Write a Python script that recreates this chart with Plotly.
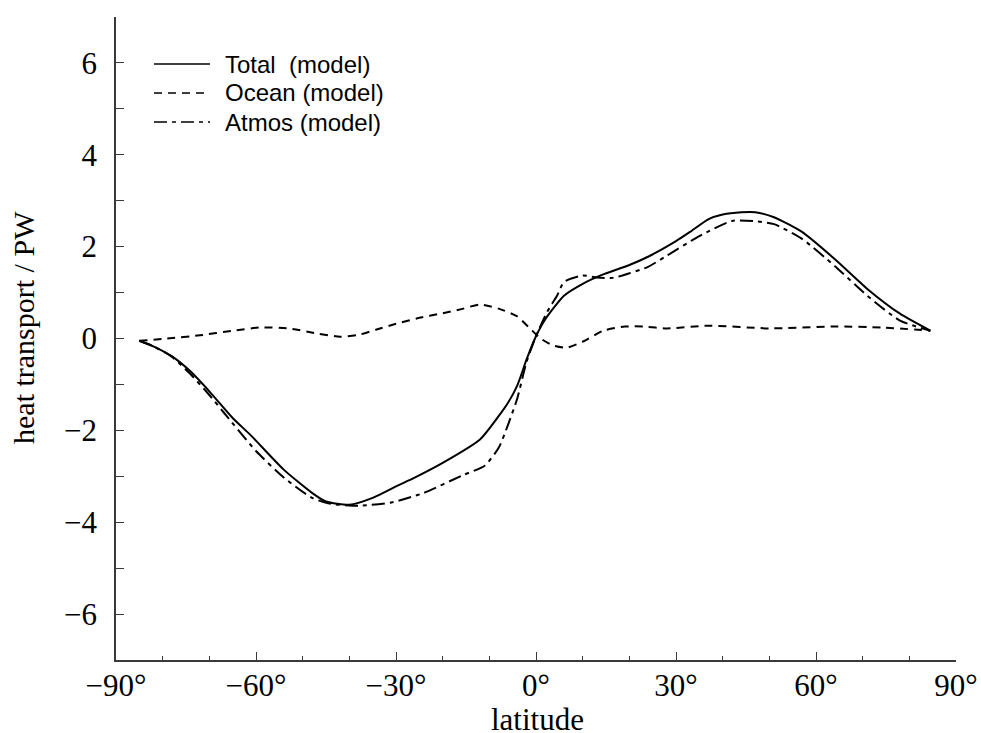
import plotly.graph_objects as go

# ---- data ----
total_lat = [-85, -82, -78, -74, -70, -65, -61, -54, -48, -45, -40, -35, -30, -26, -20, -12, -8, -6, -4, -2, 0,
             2, 6, 10, 14, 20, 24, 30, 33, 37, 40, 44, 47, 51, 57, 64, 71, 78, 84.5]
total_val = [-0.05, -0.17, -0.39, -0.72, -1.15, -1.73, -2.12, -2.86, -3.36, -3.55, -3.62, -3.47, -3.22, -3.03,
             -2.71, -2.2, -1.69, -1.4, -1.02, -0.45, 0.05,
             0.42, 0.93, 1.19, 1.38, 1.6, 1.78, 2.12, 2.32, 2.6, 2.7, 2.75, 2.75, 2.64, 2.32, 1.73, 1.08, 0.54, 0.17]

ocean_lat = [-85, -79, -72, -65, -59, -53, -47, -42, -38, -34, -30, -25, -20, -16, -12, -8, -4, -1.3, 1,
             3.6, 6.6, 10, 14.4, 19, 23, 28, 37, 50, 64, 74, 84.5]
ocean_val = [-0.05, 0.0, 0.07, 0.17, 0.24, 0.22, 0.11, 0.04, 0.08, 0.2, 0.32, 0.45, 0.55, 0.64, 0.74, 0.65,
             0.48, 0.22, 0.0, -0.15, -0.2, -0.07, 0.17, 0.26, 0.26, 0.22, 0.28, 0.22, 0.26, 0.24, 0.17]

atmos_lat = [-85, -82, -78, -74, -70, -67, -60, -54, -48, -44, -38, -31, -24, -16, -11, -8, -6, -4, -2, 0,
             2.4, 4.5, 6, 10, 13, 16.5, 20, 24, 28, 35, 42, 46.5, 51, 57, 64, 71, 78, 84.5]
atmos_val = [-0.05, -0.17, -0.4, -0.78, -1.23, -1.6, -2.45, -3.03, -3.47, -3.6, -3.64, -3.57, -3.36, -2.99,
             -2.77, -2.38, -1.88, -1.3, -0.5, 0.05,
             0.58, 0.93, 1.23, 1.37, 1.33, 1.32, 1.42, 1.56, 1.8, 2.23, 2.56, 2.56, 2.49, 2.17, 1.58, 0.93, 0.39, 0.17]

series_names = ["Total  (model)", "Ocean (model)", "Atmos (model)"]

x_tickvals = [-90, -60, -30, 0, 30, 60, 90]
x_ticktext = ["\u221290\u00b0", "\u221260\u00b0", "\u221230\u00b0", "0\u00b0", "30\u00b0", "60\u00b0", "90\u00b0"]
y_tickvals = [-6, -4, -2, 0, 2, 4, 6]
y_ticktext = ["\u22126", "\u22124", "\u22122", "0", "2", "4", "6"]

x_title = "latitude"
y_title = "heat transport / PW"

# ---- styles ----
SERIF = "Liberation Serif, Times New Roman, serif"
SANS = "Liberation Sans, Arial, Helvetica, sans-serif"
AXC = "#3a3a3a"
dashes = ["solid", "8px,6px", "13px,5px,4px,5px"]

fig = go.Figure()
for lat, val, name, dash in [(total_lat, total_val, series_names[0], dashes[0]),
                             (ocean_lat, ocean_val, series_names[1], dashes[1]),
                             (atmos_lat, atmos_val, series_names[2], dashes[2])]:
    fig.add_trace(go.Scatter(x=lat, y=val, mode="lines", name=name, showlegend=False,
                             line=dict(color="black", width=2, dash=dash, shape="spline", smoothing=0.6)))

FW, FH = 981, 733
L, T, W, H = 116, 17, 840, 643
def px_x(p):   # window pixel -> paper coordinate
    return (p - L) / W
def px_y(p):
    return (T + H - p) / H

# manual legend (samples + text)
rows_y = [64, 93, 122]
for ry, name, dash in zip(rows_y, series_names, dashes):
    fig.add_shape(type="line", xref="paper", yref="paper",
                  x0=px_x(154), x1=px_x(210), y0=px_y(ry), y1=px_y(ry),
                  line=dict(color="black", width=1.6, dash=dash))
    fig.add_annotation(xref="paper", yref="paper", x=px_x(223), y=px_y(ry),
                       xanchor="left", yanchor="middle", showarrow=False,
                       text=name.replace("  ", "&nbsp; "), font=dict(family=SANS, size=24, color="black"))

# axis titles (placed as text to match the reference positions)
fig.add_annotation(xref="paper", yref="paper", x=px_x(23), y=px_y(328),
                   xanchor="center", yanchor="middle", showarrow=False, textangle=-90,
                   text=y_title, font=dict(family=SERIF, size=30, color="black"))
fig.add_annotation(xref="paper", yref="paper", x=px_x(537), y=px_y(719),
                   xanchor="center", yanchor="middle", showarrow=False,
                   text=x_title, font=dict(family=SERIF, size=31, color="black"))

fig.update_layout(
    width=FW, height=FH,
    margin=dict(l=L, r=FW - L - W, t=T, b=FH - T - H, autoexpand=False),
    paper_bgcolor="white", plot_bgcolor="white",
    showlegend=False,
)
fig.update_xaxes(
    range=[-90, 90], tickvals=x_tickvals, ticktext=x_ticktext,
    ticks="inside", ticklen=8, tickwidth=1.3, tickcolor=AXC,
    minor=dict(dtick=10, tick0=0, ticks="inside", ticklen=4, tickwidth=1.2, tickcolor=AXC),
    showline=True, linecolor=AXC, linewidth=1.5, mirror=False,
    showgrid=False, zeroline=False, automargin=False,
    tickfont=dict(family=SERIF, size=31, color="black"), ticklabelstandoff=-3,
)
fig.update_yaxes(
    range=[-7, 7], tickvals=y_tickvals, ticktext=y_ticktext,
    ticks="inside", ticklen=5, tickwidth=1.3, tickcolor=AXC,
    minor=dict(dtick=1, tick0=0, ticks="inside", ticklen=8, tickwidth=1.2, tickcolor=AXC),
    showline=True, linecolor=AXC, linewidth=1.5, mirror=False,
    showgrid=False, zeroline=False, automargin=False,
    tickfont=dict(family=SERIF, size=31, color="black"), ticklabelstandoff=11,
)

# remove the default 8px page margin so the 981x733 figure fills the window exactly
fig.write_html("out.html",
               config={"displayModeBar": False},
               post_script="document.body.style.margin='0px'; document.body.style.overflow='hidden';")
